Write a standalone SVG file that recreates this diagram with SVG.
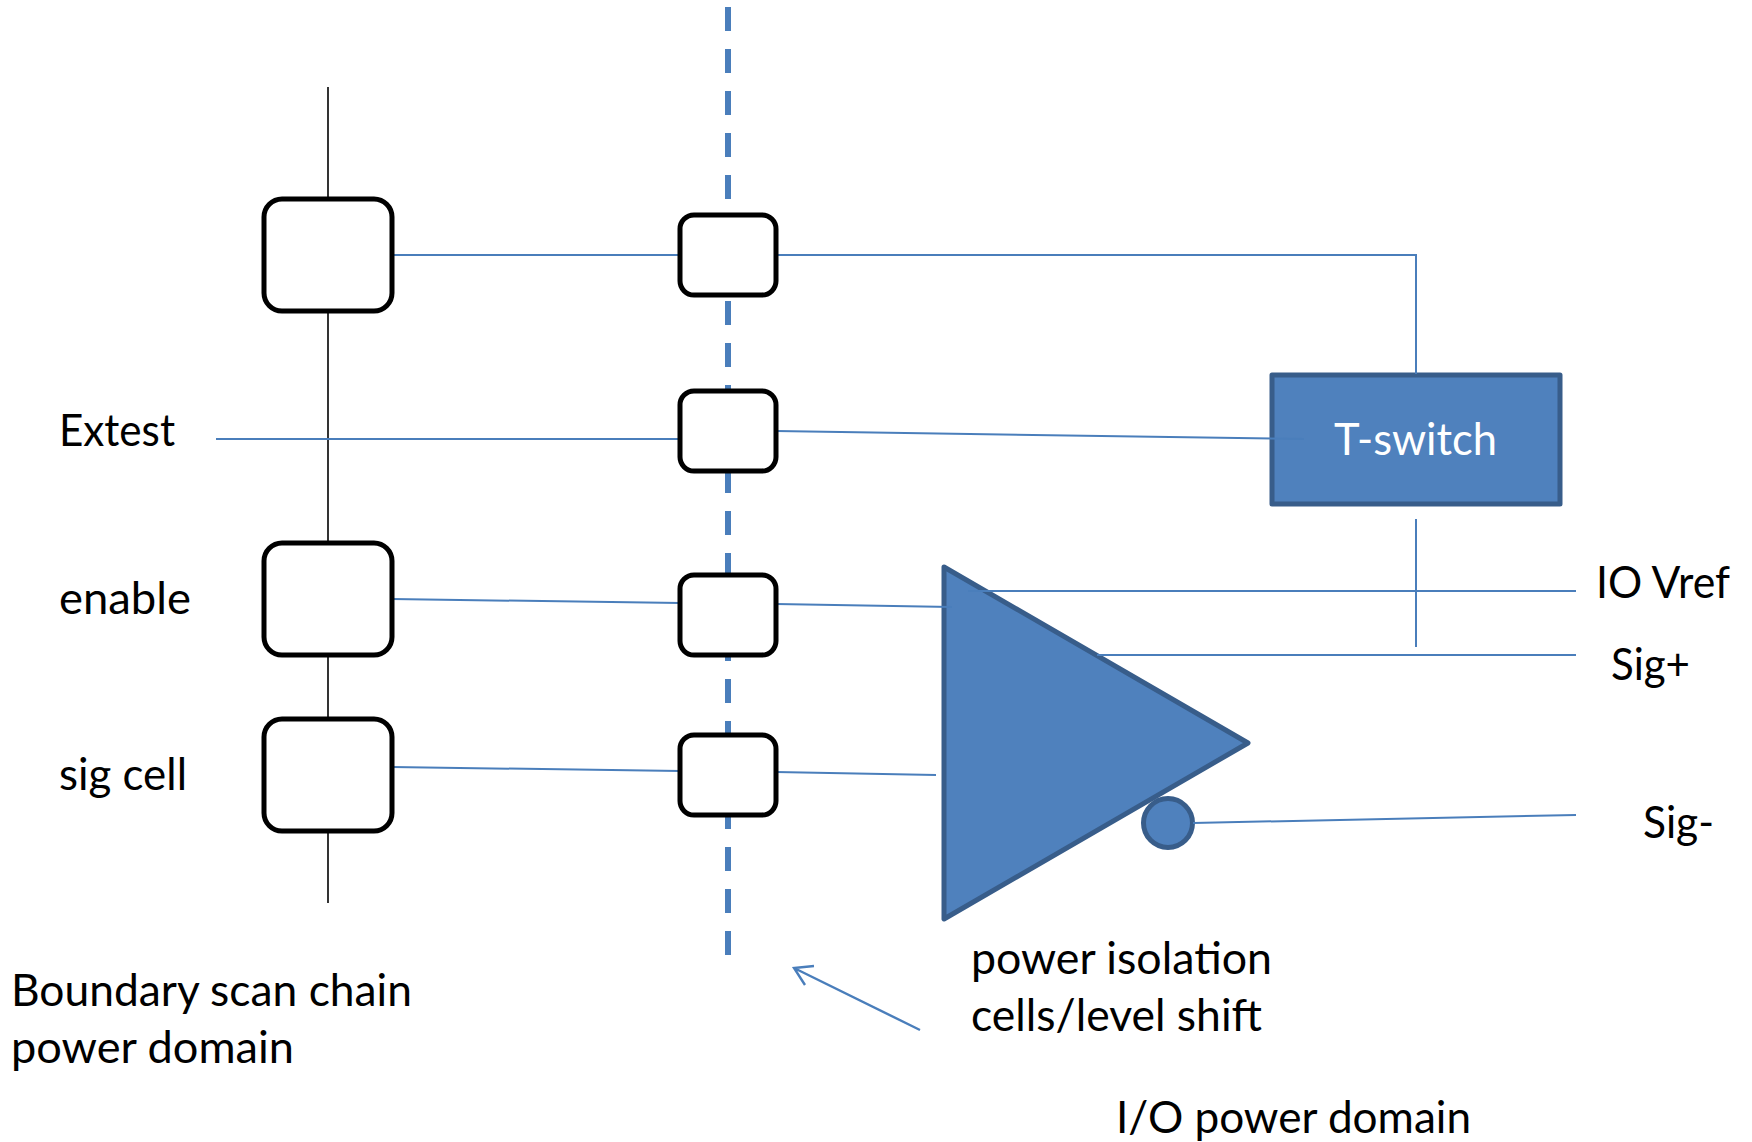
<svg xmlns="http://www.w3.org/2000/svg" width="1752" height="1142" viewBox="0 0 1752 1142">
<style>
.bg{fill:#fff}
.w{fill:none;stroke:#4A7EBB;stroke-width:2}
.arrow{fill:none;stroke:#4A7EBB;stroke-width:2.4}
.chain{fill:none;stroke:#000;stroke-width:1.6}
.dash{fill:none;stroke:#4A7EBB;stroke-width:6;stroke-dasharray:24 18}
.cell{fill:#fff;stroke:#000;stroke-width:5}
.blue{fill:#4F81BD;stroke:#385D8A;stroke-width:5;stroke-linejoin:round}
text{font-family:"Lato","Liberation Sans",sans-serif;font-size:45px;fill:#000}
.inv{fill:#fff}
</style>
<rect class="bg" width="1752" height="1142"/>
<g id="chain-lines">
<path class="chain" d="M328 87V903"/>
<path class="dash" d="M728 7V955"/>
</g>
<g id="t-switch">
<rect class="blue" x="1272" y="375" width="288" height="129"/>
<text class="inv" x="1334" y="455" textLength="163" lengthAdjust="spacingAndGlyphs">T-switch</text>
</g>
<g id="buffer">
<path class="blue" d="M944 567L1248 743L944 919Z"/>
<circle class="blue" cx="1168" cy="823" r="24.5"/>
</g>
<g id="connectors">
<path class="w" d="M392 255H680"/>
<path class="w" d="M776 255H1416V374"/>
<path class="w" d="M216 439H680"/>
<path class="w" d="M776 431L1304 439"/>
<path class="w" d="M392 599L680 603"/>
<path class="w" d="M776 604L952 607"/>
<path class="w" d="M392 767L680 771"/>
<path class="w" d="M776 772L936 775"/>
<path class="w" d="M968 591H1576"/>
<path class="w" d="M1097 655H1576"/>
<path class="w" d="M1416 519V647"/>
<path class="w" d="M1193 823L1576 815"/>
<path class="arrow" d="M920 1030L794 968M814 966L794 968L805 985"/>
</g>
<g id="scan-cell-1"><rect class="cell" x="264" y="199" width="128" height="112" rx="18"/></g>
<g id="scan-cell-2"><rect class="cell" x="264" y="543" width="128" height="112" rx="18"/></g>
<g id="scan-cell-3"><rect class="cell" x="264" y="719" width="128" height="112" rx="18"/></g>
<g id="iso-cell-1"><rect class="cell" x="680" y="215" width="96" height="80" rx="14"/></g>
<g id="iso-cell-2"><rect class="cell" x="680" y="391" width="96" height="80" rx="14"/></g>
<g id="iso-cell-3"><rect class="cell" x="680" y="575" width="96" height="80" rx="14"/></g>
<g id="iso-cell-4"><rect class="cell" x="680" y="735" width="96" height="80" rx="14"/></g>
<g id="labels">
<text x="59" y="446" textLength="116" lengthAdjust="spacingAndGlyphs">Extest</text>
<text x="59" y="614" textLength="132" lengthAdjust="spacingAndGlyphs">enable</text>
<text x="59" y="790" textLength="128" lengthAdjust="spacingAndGlyphs">sig cell</text>
<text x="1596" y="598" textLength="134" lengthAdjust="spacingAndGlyphs">IO Vref</text>
<text x="1611" y="680" textLength="79" lengthAdjust="spacingAndGlyphs">Sig+</text>
<text x="1643" y="838" textLength="71" lengthAdjust="spacingAndGlyphs">Sig-</text>
<text x="11" y="1006" textLength="401" lengthAdjust="spacingAndGlyphs">Boundary scan chain</text>
<text x="11" y="1063" textLength="283" lengthAdjust="spacingAndGlyphs">power domain</text>
<text x="971" y="974" textLength="301" lengthAdjust="spacingAndGlyphs">power isolation</text>
<text x="971" y="1031" textLength="291" lengthAdjust="spacingAndGlyphs">cells/level shift</text>
<text x="1116" y="1133" textLength="355" lengthAdjust="spacingAndGlyphs">I/O power domain</text>
</g>
</svg>
